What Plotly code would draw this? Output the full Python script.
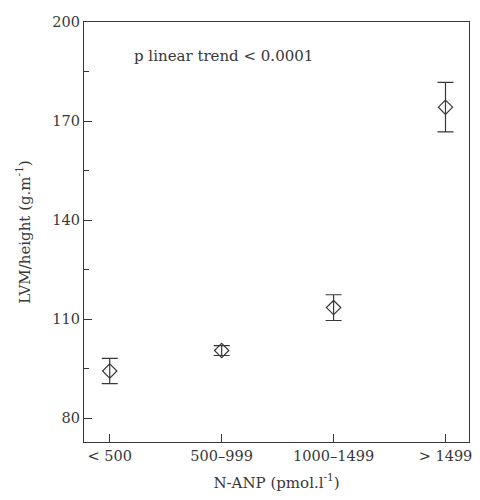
import plotly.graph_objects as go

categories = ["< 500", "500–999", "1000–1499", "> 1499"]
lvm_height = [94.3, 100.5, 113.5, 174.2]
sem = [3.8, 1.5, 3.9, 7.5]
y_ticks = [80, 110, 140, 170, 200]

ink = "#383838"
font_family = "DejaVu Serif, Liberation Serif, serif"

fig = go.Figure()
fig.add_trace(go.Scatter(
    x=list(range(len(categories))), y=lvm_height,
    mode="markers",
    marker=dict(symbol="diamond-open", size=11, color=ink, line=dict(width=1.2, color=ink)),
    error_y=dict(type="data", array=sem, visible=True, color=ink, thickness=1.2, width=8),
    showlegend=False,
))

fig.update_layout(
    width=470, height=492,
    margin=dict(l=76, r=6, t=12, b=58),
    paper_bgcolor="white", plot_bgcolor="white",
    font=dict(family=font_family, size=14, color=ink),
    xaxis=dict(
        range=[-0.23, 3.21],
        tickmode="array", tickvals=list(range(len(categories))), ticktext=categories,
        ticks="inside", ticklen=8, tickcolor=ink, tickwidth=1,
        showline=True, linecolor=ink, linewidth=1.3, mirror=True,
        showgrid=False, zeroline=False,
        title=dict(text="N-ANP (pmol.l<sup>-1</sup>)", font=dict(size=15), standoff=14),
        tickfont=dict(size=14.5),
    ),
    yaxis=dict(
        range=[72.8, 200],
        tickmode="array", tickvals=y_ticks,
        ticks="inside", ticklen=8, tickcolor=ink, tickwidth=1,
        minor=dict(tickmode="array", tickvals=[95, 125, 155, 185], ticks="inside", ticklen=5, tickcolor=ink),
        showline=True, linecolor=ink, linewidth=1.3, mirror=True,
        showgrid=False, zeroline=False,
        title=dict(text="LVM/height (g.m<sup>-1</sup>)", font=dict(size=15), standoff=18),
        tickfont=dict(size=14.5),
    ),
    annotations=[dict(
        text="p linear trend < 0.0001", xref="paper", yref="paper",
        x=0.125, y=0.92, xanchor="left", yanchor="middle", showarrow=False,
        font=dict(size=15, color=ink),
    )],
)

fig.write_html("out.html")
